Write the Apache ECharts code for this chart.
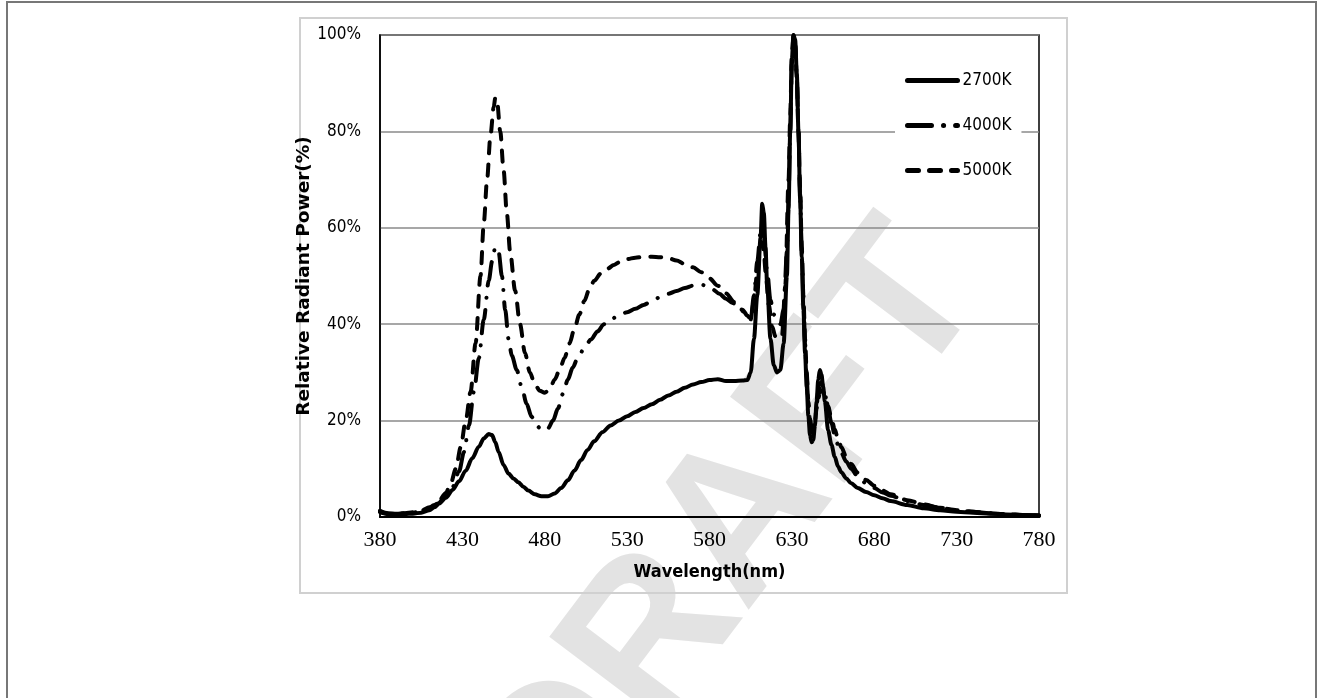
<!DOCTYPE html>
<html>
<head>
<meta charset="utf-8">
<script src="https://cdn.jsdelivr.net/npm/echarts@6/dist/echarts.min.js"></script>
<style>
html,body{margin:0;padding:0;background:#fff;}
#chart{width:1319px;height:698px;}
</style>
</head>
<body>
<div id="chart"></div>
<script>
// ---- DATA ----
const seriesNames = ['2700K', '4000K', '5000K'];
const xTicks = [380, 430, 480, 530, 580, 630, 680, 730, 780];
const yTicks = [0, 20, 40, 60, 80, 100];

const wl2700 = [380,383,386,390,395,400,405,410,413,416,420,424,428,432,436,440,443,446,448,450,452,455,458,461,464,467,470,474,478,482,486,490,494,498,502,506,510,515,520,525,530,535,540,545,550,555,560,565,570,575,580,585,590,595,600,603,605,607,609,611,612,613,614,615,617,619,621,623,625,627,628,629,630,631,632,633,634,635,636,637,638,639,640,641,642,643,644,645,646,647,648,649,650,652,654,656,658,660,663,666,670,675,680,685,690,700,710,720,730,740,750,760,770,780];
const v2700 = [1.2,0.8,0.6,0.5,0.6,0.7,0.9,1.4,2.0,2.8,4.0,5.6,7.4,9.6,12.2,14.6,16.3,17.2,17.0,15.5,13.5,10.8,9.0,8.0,7.2,6.3,5.5,4.7,4.3,4.3,4.9,6.0,7.6,9.6,11.8,13.9,15.7,17.6,19.0,20.0,20.9,21.8,22.6,23.4,24.3,25.2,26.0,26.8,27.5,28.0,28.4,28.6,28.2,28.2,28.3,28.4,30,37,46,58,65,63,56,48,37,31.5,30,30.5,36,50,64,80,95,100,99,92,80,66,54,43,34,27,21,17,15.5,16,19,24,28.5,30.5,29.5,27,24,18,15,12.5,10.5,9.3,8,7,6,5.2,4.5,3.9,3.3,2.5,1.8,1.4,1.1,0.9,0.7,0.5,0.4,0.3];

const wl4000 = [380,385,390,395,400,405,410,415,420,424,428,431,434,437,440,443,446,448,450,452,454,456,458,460,463,466,469,472,475,478,480,482,485,488,491,494,497,500,504,508,512,516,520,525,530,535,540,545,550,555,560,565,570,575,578,582,586,590,594,598,601,603,605,607,609,611,612,613,615,617,619,621,623,625,627,628,629,630,631,632,633,634,635,636,637,638,639,640,641,642,643,644,645,646,647,648,649,650,652,654,656,658,660,663,666,670,675,680,685,690,700,710,720,730,740,750,760,770,780];
const v4000 = [1.3,0.8,0.7,0.8,0.9,1.2,1.8,2.8,4.3,6.2,9.5,13.5,19,26,33,41,49,53,56,55,50,43,37,33.5,30.5,27,23.5,20.8,19,18.1,18,18.4,20,22.5,25.5,28.5,31,33,35,36.8,38.5,40,41,41.8,42.5,43.2,44,44.8,45.6,46.3,46.9,47.5,48,48.2,48,47.2,46.3,45.3,44.4,43.5,42.5,41.5,41,46,53,59,60,58,51,45,42,40.5,40,43,55,66,80,94,100,98,91,80,67,55,45,36,29,23,19.5,17.5,17.5,19.5,23,26,27.5,28,27,25.5,22.5,19.5,17,15,13.3,11.5,10,8.4,7,6,5.1,4.4,3.3,2.5,1.9,1.4,1.1,0.8,0.6,0.4,0.3];

const wl5000 = [380,385,390,395,400,405,410,415,420,423,426,429,432,435,438,441,443,445,447,449,450,451,453,455,457,459,462,465,468,471,474,477,480,483,486,489,492,495,498,501,504,507,510,514,518,522,526,530,535,540,545,550,555,560,565,570,575,580,585,590,595,600,603,605,607,609,611,612,613,614,616,618,620,622,624,626,628,629,630,631,632,633,634,635,636,637,638,639,640,641,642,643,644,645,646,647,648,649,650,652,654,656,658,660,663,666,670,675,680,685,690,700,710,720,730,740,750,760,770,780];
const v5000 = [1.0,0.6,0.6,0.8,1.0,1.3,2.0,3.0,5.0,7.0,10,14.5,20,26,36,50,61,70,79,85,87,86.5,80,72,63,55,47,40,34,30,27.5,26.2,25.8,26.5,28.5,30.5,33,36,39,42,44.8,47.2,49,50.5,51.5,52.3,53,53.5,53.8,54,54,53.9,53.7,53.2,52.5,51.8,50.8,49.5,48,46.4,44.6,43,41.8,41,45,51,56,57,55,51,44,39.5,37.5,37,37.5,48,70,83,96,100,98,91,80,68,56,46,37,30,24,20.5,18.5,18.5,20,22.5,24.5,25.8,26.3,26,25.3,23,20.5,18.2,16.2,14.5,12.5,11,9.2,7.7,6.5,5.5,4.7,3.5,2.6,1.9,1.4,1.1,0.8,0.6,0.4,0.3];

// ---- CHART ----
const narrow = "'Liberation Sans Narrow', 'Arial Narrow', 'DejaVu Sans Condensed', sans-serif";
const pairs = (w, v) => w.map((x, i) => [x, v[i]]);

const chart = echarts.init(document.getElementById('chart'));
const common = {
  type: 'line', showSymbol: false, symbol: 'none', smooth: 0.3, smoothMonotone: 'x',
  animation: false
};
chart.setOption({
  animation: false,
  backgroundColor: '#fff',
  grid: { left: 380, top: 35, width: 659, height: 482, show: true, borderColor: '#000', borderWidth: 1.5, containLabel: false, outerBoundsMode: 'none' },
  legend: {
    data: seriesNames,
    orient: 'vertical',
    left: 895, top: 62,
    padding: [10, 10, 10, 10],
    backgroundColor: '#fff',
    itemWidth: 50, itemHeight: 20, itemGap: 28,
    itemStyle: { opacity: 0 },
    lineStyle: { width: 5, color: '#000', opacity: 1 },
    textStyle: { fontFamily: narrow, fontSize: 17, color: '#000', padding: [0, 0, 0, 0] }
  },
  xAxis: {
    type: 'value', min: xTicks[0], max: xTicks[xTicks.length - 1], interval: 50,
    name: 'Wavelength(nm)', nameLocation: 'middle', nameGap: 46,
    nameTextStyle: { fontFamily: narrow, fontWeight: 'bold', fontSize: 18, color: '#000' },
    axisLine: { lineStyle: { color: '#000', width: 2 } },
    axisTick: { show: false },
    splitLine: { show: false },
    axisLabel: { fontFamily: "'Liberation Serif', serif", fontSize: 22, color: '#000', margin: 12 }
  },
  yAxis: {
    type: 'value', min: yTicks[0], max: yTicks[yTicks.length - 1], interval: 20,
    name: 'Relative Radiant Power(%)', nameLocation: 'middle', nameGap: 57,
    nameTextStyle: { fontFamily: "'DejaVu Sans', sans-serif", fontWeight: 'bold', fontSize: 18.5, color: '#000' },
    axisLine: { show: true, lineStyle: { color: '#000', width: 1.5 } },
    axisTick: { show: false },
    splitLine: { show: true, lineStyle: { color: '#8a8a8a', width: 1.5 } },
    axisLabel: { formatter: '{value}%', fontFamily: narrow, fontSize: 17, color: '#000', margin: 19 }
  },
  series: [
    Object.assign({}, common, {
      name: seriesNames[0], data: pairs(wl2700, v2700), z: 5,
      lineStyle: { color: '#000', width: 4, type: 'solid', cap: 'round', join: 'round' },
      itemStyle: { color: '#000' }
    }),
    Object.assign({}, common, {
      name: seriesNames[1], data: pairs(wl4000, v4000), z: 4,
      lineStyle: { color: '#000', width: 4, type: [24, 12, 0.1, 12], cap: 'round', join: 'round' },
      itemStyle: { color: '#000' }
    }),
    Object.assign({}, common, {
      name: seriesNames[2], data: pairs(wl5000, v5000), z: 3,
      lineStyle: { color: '#000', width: 4, type: [11, 11], cap: 'round', join: 'round' },
      itemStyle: { color: '#000' }
    })
  ],
  graphic: [
    {
      type: 'text', x: 731, y: 538, rotation: 53 * Math.PI / 180, z: -10, silent: true,
      style: { text: 'DRAFT', font: "bold 208px 'Liberation Sans', Arial, sans-serif", fill: '#e3e3e3', align: 'center', verticalAlign: 'middle' }
    },
    {
      type: 'rect', z: -5, silent: true,
      shape: { x: 300, y: 18, width: 767, height: 575 },
      style: { fill: 'none', stroke: '#d0d0d0', lineWidth: 2 }
    },
    {
      type: 'rect', z: -5, silent: true,
      shape: { x: 7, y: 2, width: 1309, height: 720 },
      style: { fill: 'none', stroke: '#777', lineWidth: 2 }
    }
  ]
});
</script>
</body>
</html>
